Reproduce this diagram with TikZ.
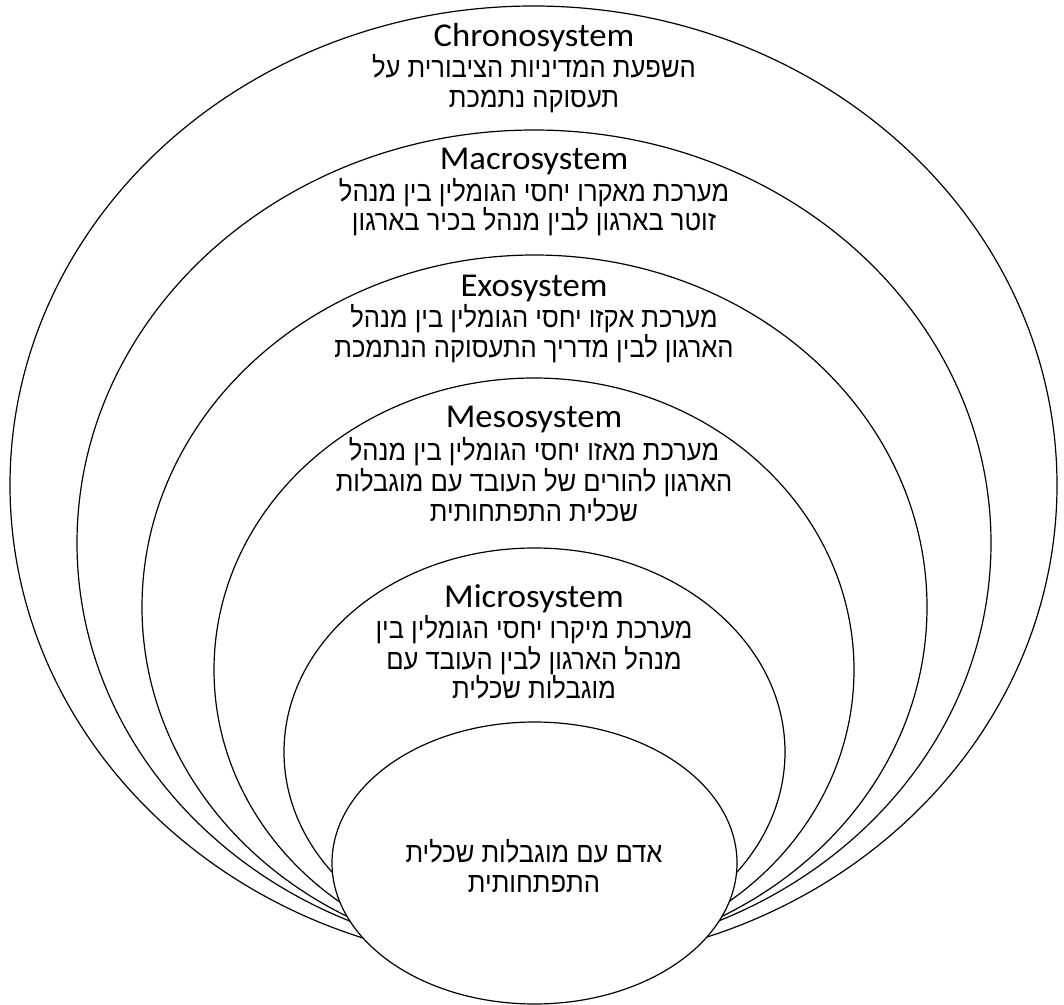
\documentclass[tikz,border=0pt]{standalone}
\usepackage{fontspec}
\setmainfont{Carlito}[FakeStretch=1.04]
\newfontfamily\hebfont[Script=Hebrew,FakeStretch=0.9]{Liberation Sans}
\TeXXeTstate=1
\usetikzlibrary{shapes.geometric}
\begin{document}
\begin{tikzpicture}[x=0.75pt,y=-0.75pt,
  ring/.style={draw, ellipse, fill=white, line width=0.9pt, inner sep=0pt},
  title/.style={anchor=base, inner sep=0pt, font={\fontsize{25}{29}\selectfont}},
  heb/.style={anchor=base, inner sep=0pt, font={\hebfont\fontsize{21.3}{25}\selectfont}}]
\useasboundingbox[fill=white] (0,0) rectangle (1064,1005);
\node[ring, minimum width=785.25pt, minimum height=718.5pt] (chrono) at (533.5,485) {};
\node[ring, minimum width=685.5pt, minimum height=619.5pt] (macro) at (534,543) {};
\node[ring, minimum width=588.75pt, minimum height=528pt] (exo) at (534.5,607) {};
\node[ring, minimum width=480pt, minimum height=438pt] (meso) at (534,670) {};
\node[ring, minimum width=375.75pt, minimum height=306pt] (micro) at (534.5,752) {};
\node[ring, minimum width=303.75pt, minimum height=211.5pt] (person) at (534.5,863) {};

\node[title] (chronoT) at (534,47) {Chronosystem};
\node[heb] (chrono1) at (534,78) {\beginR השפעת המדיניות הציבורית על\endR};
\node[heb] (chrono2) at (534,108) {\beginR תעסוקה נתמכת\endR};

\node[title] (macroT) at (534,170) {Macrosystem};
\node[heb] (macro1) at (534,202) {\beginR מערכת מאקרו יחסי הגומלין בין מנהל\endR};
\node[heb] (macro2) at (534,231) {\beginR זוטר בארגון לבין מנהל בכיר בארגון\endR};

\node[title] (exoT) at (534,297) {Exosystem};
\node[heb] (exo1) at (534,328) {\beginR מערכת אקזו יחסי הגומלין בין מנהל\endR};
\node[heb] (exo2) at (534,358) {\beginR הארגון לבין מדריך התעסוקה הנתמכת\endR};

\node[title] (mesoT) at (534,428) {Mesosystem};
\node[heb] (meso1) at (534,460) {\beginR מערכת מאזו יחסי הגומלין בין מנהל\endR};
\node[heb] (meso2) at (534,491) {\beginR הארגון להורים של העובד עם מוגבלות\endR};
\node[heb] (meso3) at (534,522) {\beginR שכלית התפתחותית\endR};

\node[title] (microT) at (534,607) {Microsystem};
\node[heb] (micro1) at (534,638) {\beginR מערכת מיקרו יחסי הגומלין בין\endR};
\node[heb] (micro2) at (534,669) {\beginR מנהל הארגון לבין העובד עם\endR};
\node[heb] (micro3) at (534,698) {\beginR מוגבלות שכלית\endR};

\node[heb] (person1) at (534,862) {\beginR אדם עם מוגבלות שכלית\endR};
\node[heb] (person2) at (534,892) {\beginR התפתחותית\endR};
\end{tikzpicture}
\end{document}
